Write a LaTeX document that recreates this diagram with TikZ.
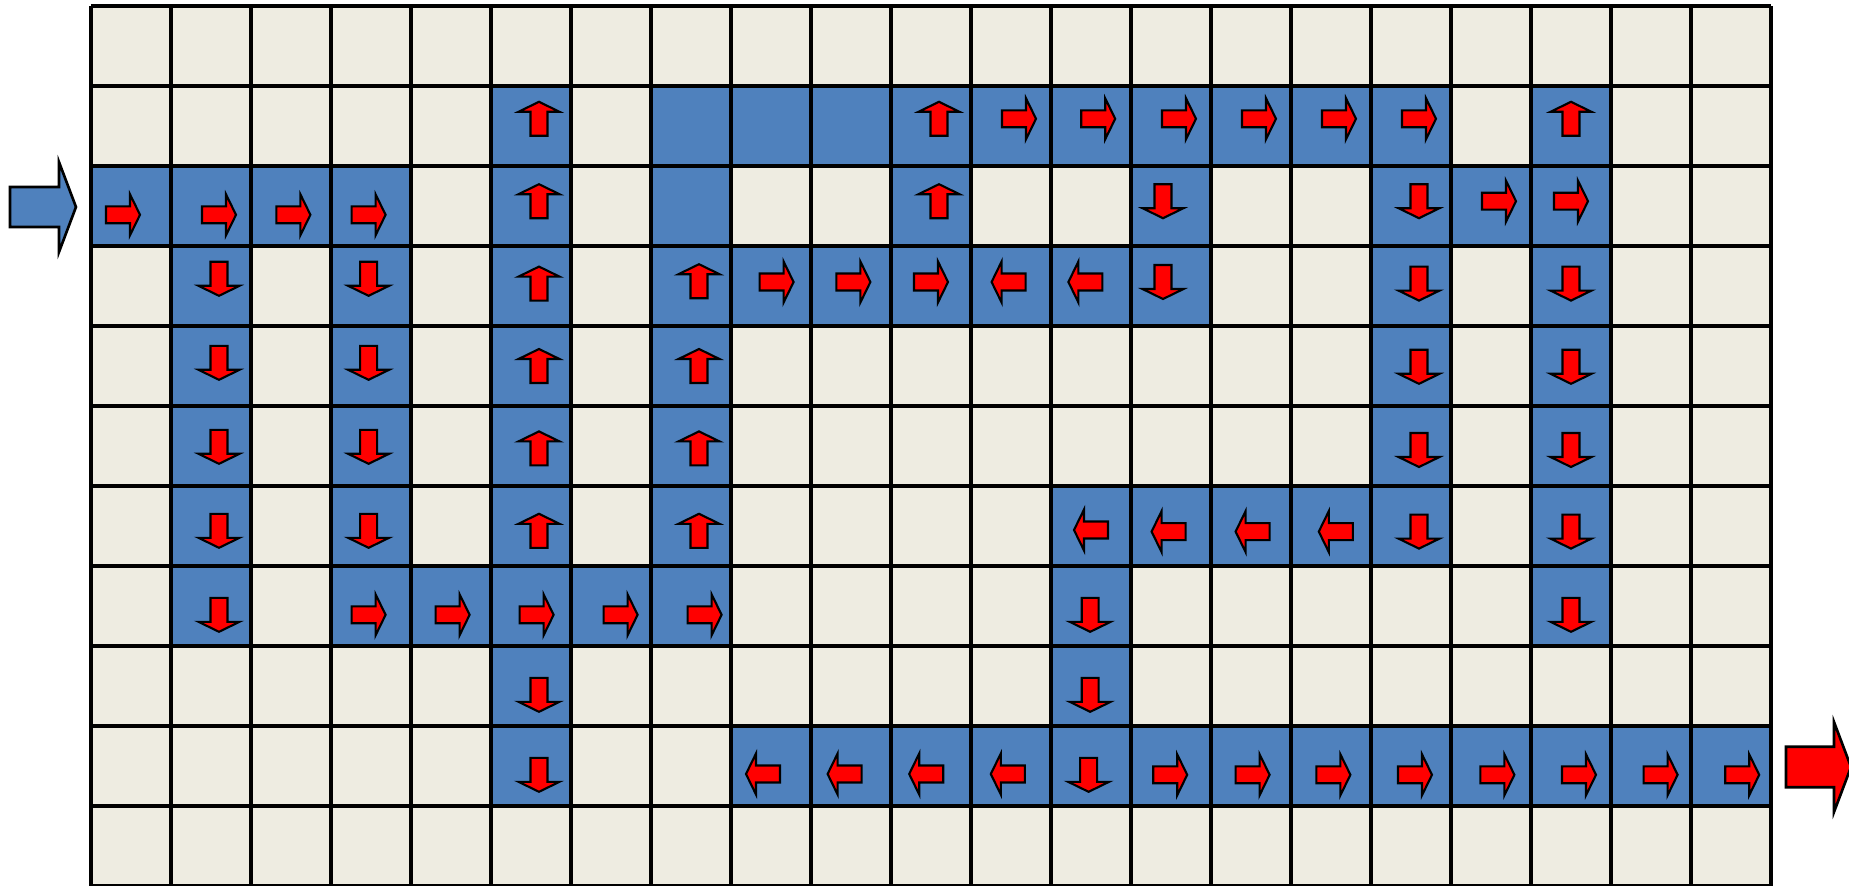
\documentclass[tikz,border=0pt]{standalone}
\usepackage{tikz}
\tikzset{
  cellbg/.style  ={fill=cellbeige},
  pathcell/.style={fill=pathblue},
  gridline/.style={draw=black, line width=0.95pt, step=1},
  arrline/.style ={draw=black, fill=red, line width=0.6pt, line join=miter},
  bigarr/.style  ={draw=black, line width=0.75pt, line join=miter},
  flowarrow/.pic ={\path[arrline] (-0.2125,-0.106) -- (0.0875,-0.106)
                   -- (0.0875,-0.256) -- (0.2125,0) -- (0.0875,0.256)
                   -- (0.0875,0.106) -- (-0.2125,0.106) -- cycle;},
}
\definecolor{cellbeige}{RGB}{238,236,225}
\definecolor{pathblue} {RGB}{79,129,189}

\begin{document}
\begin{tikzpicture}[x=0.8cm,y=0.8cm]
  \useasboundingbox (-1.1375,-11) rectangle (21.975,0.075);
  \fill[cellbg] (0,0) rectangle (21,-11);
  \foreach \r/\cols in {1/{5,7,8,9,10,11,12,13,14,15,16,18},
                        2/{0,1,2,3,5,7,10,13,16,17,18},
                        3/{1,3,5,7,8,9,10,11,12,13,16,18},
                        4/{1,3,5,7,16,18},
                        5/{1,3,5,7,16,18},
                        6/{1,3,5,7,12,13,14,15,16,18},
                        7/{1,3,4,5,6,7,12,18},
                        8/{5,12},
                        9/{5,8,9,10,11,12,13,14,15,16,17,18,19,20}}
    \foreach \c in \cols
      \fill[pathcell] (\c,-\r) rectangle ++(1,-1);
  \draw[gridline] (0,0) grid (21,-11);

  \foreach \x/\y/\a in {5.60/-1.41/90, 10.60/-1.41/90, 11.60/-1.41/0, 12.59/-1.41/0,
                        13.60/-1.41/0, 14.60/-1.41/0, 15.60/-1.41/0, 16.60/-1.41/0, 18.50/-1.41/90,
                        0.40/-2.61/0, 1.60/-2.61/0, 2.53/-2.61/0, 3.47/-2.61/0,
                        5.60/-2.44/90, 10.60/-2.44/90, 13.40/-2.44/270, 16.60/-2.44/270,
                        17.60/-2.44/0, 18.50/-2.44/0,
                        1.60/-3.41/270, 3.47/-3.41/270, 5.60/-3.47/90, 7.60/-3.44/90,
                        8.57/-3.45/0, 9.53/-3.45/0, 10.50/-3.45/0, 11.47/-3.45/180,
                        12.43/-3.45/180, 13.40/-3.45/270, 16.60/-3.47/270, 18.50/-3.47/270,
                        1.60/-4.46/270, 3.47/-4.46/270, 5.60/-4.50/90, 7.60/-4.50/90,
                        16.60/-4.51/270, 18.50/-4.51/270,
                        1.60/-5.51/270, 3.47/-5.51/270, 5.60/-5.53/90, 7.60/-5.53/90,
                        16.60/-5.55/270, 18.50/-5.55/270,
                        1.60/-6.56/270, 3.47/-6.56/270, 5.60/-6.56/90, 7.60/-6.56/90,
                        12.50/-6.55/180, 13.47/-6.57/180, 14.52/-6.57/180, 15.56/-6.57/180,
                        16.60/-6.57/270, 18.50/-6.57/270,
                        1.60/-7.61/270, 3.47/-7.61/0, 4.52/-7.61/0, 5.57/-7.61/0,
                        6.62/-7.61/0, 7.67/-7.61/0, 12.49/-7.61/270, 18.50/-7.61/270,
                        5.60/-8.61/270, 12.49/-8.61/270,
                        5.60/-9.61/270, 8.40/-9.60/180, 9.42/-9.60/180, 10.44/-9.60/180,
                        11.46/-9.60/180, 12.47/-9.61/270, 13.49/-9.61/0, 14.52/-9.61/0,
                        15.53/-9.61/0, 16.55/-9.61/0, 17.58/-9.61/0, 18.60/-9.61/0,
                        19.62/-9.61/0, 20.64/-9.61/0}
    \pic[rotate=\a] at (\x,\y) {flowarrow};

  \draw[bigarr, fill=pathblue] (-1.0125,-2.2625) -- (-0.4,-2.2625) -- (-0.4,-1.95)
    -- (-0.1875,-2.5125) -- (-0.4,-3.075) -- (-0.4,-2.7625) -- (-1.0125,-2.7625) -- cycle;
  \draw[bigarr, fill=red] (21.1875,-9.259) -- (21.7875,-9.259) -- (21.7875,-8.95)
    -- (22.0,-9.5125) -- (21.7875,-10.075) -- (21.7875,-9.766) -- (21.1875,-9.766) -- cycle;
\end{tikzpicture}
\end{document}
